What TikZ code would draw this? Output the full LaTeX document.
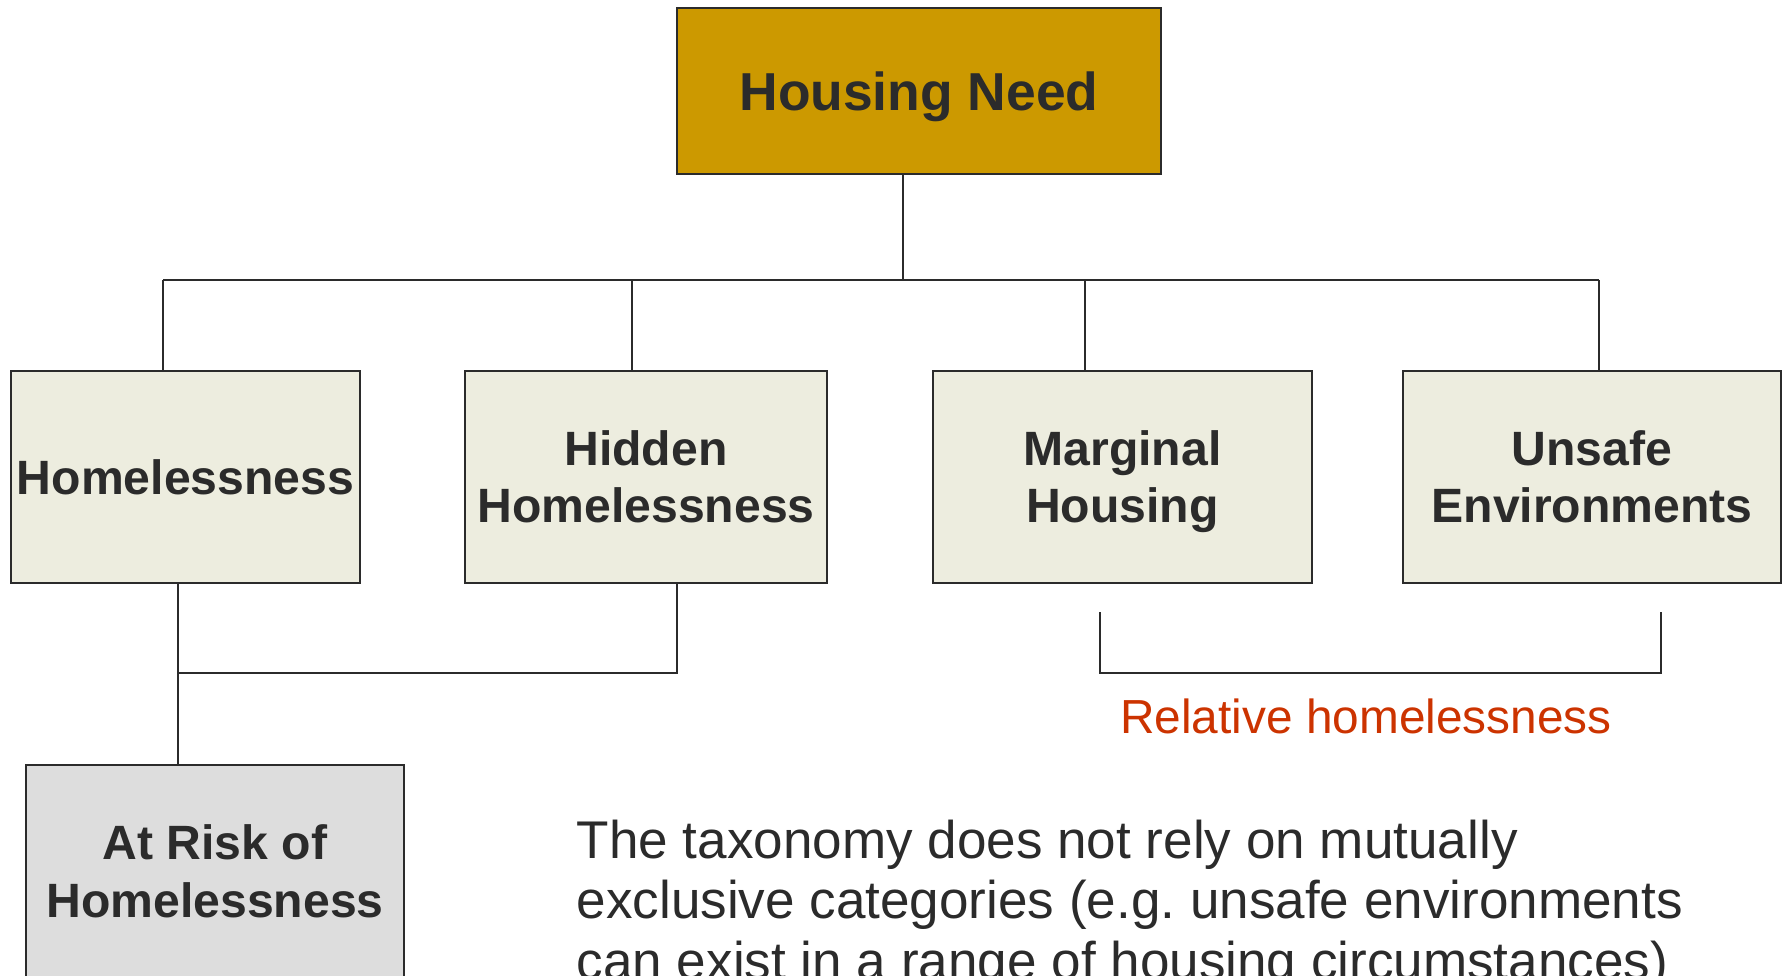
\documentclass[tikz,border=0pt]{standalone}
\usepackage{fontspec}
\setmainfont{Liberation Sans}
\usepackage{xcolor}
\definecolor{needfill}{HTML}{CC9900}
\definecolor{catfill}{HTML}{EDEDDF}
\definecolor{riskfill}{HTML}{DDDDDD}
\definecolor{inkgray}{HTML}{2B2B2B}
\definecolor{relred}{HTML}{CC3300}
\frenchspacing

\begin{document}
\begin{tikzpicture}[
  box/.style={draw=inkgray, line width=0.6pt, inner sep=0pt, align=center, text=inkgray,
    text depth=0pt, font=\bfseries\fontsize{13.7}{16.2}\selectfont},
  cat/.style={box, fill=catfill, minimum width=#1, minimum height=2.12cm},
  conn/.style={draw=inkgray, line width=0.45pt}
]
\useasboundingbox (0,0) rectangle (17.84,-9.75);
% top level
\node[box, fill=needfill, minimum width=4.84cm, minimum height=1.66cm,
  font=\bfseries\fontsize{15.2}{18}\selectfont] (need) at (9.19,-0.91) {Housing Need};
% categories
\node[cat=3.49cm] (home) at (1.855,-4.77) {Homelessness};
\node[cat=3.62cm] (hidden) at (6.46,-4.77) {Hidden\\Homelessness};
\node[cat=3.79cm] (marginal) at (11.225,-4.77) {Marginal\\Housing};
\node[cat=3.78cm] (unsafe) at (15.92,-4.77) {Unsafe\\Environments};
\node[cat=3.78cm, fill=riskfill, font=\bfseries\fontsize{13.7}{16.5}\selectfont] (risk) at (2.15,-8.71) {At Risk of\\Homelessness};
% tree lines
\coordinate (bus) at (9.03,-2.80);
\coordinate (dHome) at (1.63,-2.80);
\coordinate (dHidden) at (6.32,-2.80);
\coordinate (dMarg) at (10.85,-2.80);
\coordinate (dUnsafe) at (15.99,-2.80);
\draw[conn] (need.south -| bus) -- (bus);
\draw[conn] (dHome) -- (dUnsafe);
\foreach \d/\n in {dHome/home, dHidden/hidden, dMarg/marginal, dUnsafe/unsafe}
  \draw[conn] (\d) -- (\d |- \n.north);
% join to at risk
\coordinate (jHome) at (1.78,-6.73);
\coordinate (jHidden) at (6.77,-6.73);
\draw[conn] (jHome |- home.south) -- (jHome |- risk.north);
\draw[conn] (jHome) -- (jHidden) -- (jHidden |- hidden.south);
% relative homelessness bracket
\coordinate (relL) at (11.00,-6.73);
\coordinate (relR) at (16.61,-6.73);
\draw[conn] ([yshift=0.61cm]relL) -- (relL) -- (relR) -- ([yshift=0.61cm]relR);
\node[anchor=base, text=relred, font=\fontsize{13.6}{16}\selectfont] (rel) at (13.66,-7.33) {Relative homelessness};
% note
\node[anchor=base west, align=left, inner sep=0pt, text=inkgray, font=\fontsize{15.1}{17.1}\selectfont]
  (note) at (5.76,-9.79) {The taxonomy does not rely on mutually\\
  exclusive categories (e.g. unsafe environments\\
  can exist in a range of housing circumstances)};
\end{tikzpicture}
\end{document}
